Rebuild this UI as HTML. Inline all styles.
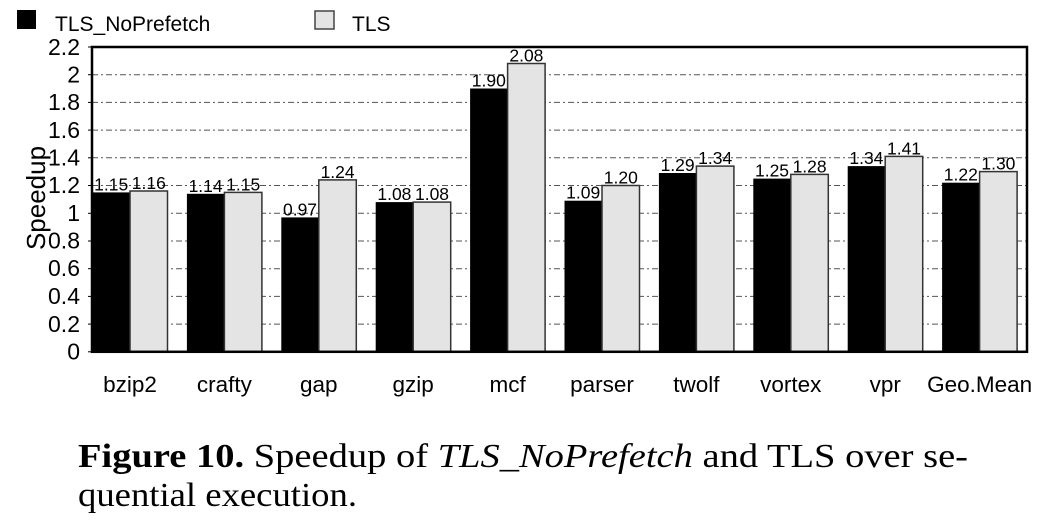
<!DOCTYPE html>
<html><head><meta charset="utf-8"><style>
html,body{margin:0;padding:0;background:#fff;}
svg{display:block;}
</style></head><body>
<svg width="1060" height="529" viewBox="0 0 1060 529" xmlns="http://www.w3.org/2000/svg" font-family="Liberation Sans, Arial, sans-serif">
<rect x="17" y="10" width="19" height="19" fill="#000"/>
<text x="55" y="31" font-size="21">TLS_NoPrefetch</text>
<rect x="315" y="11" width="19" height="18" fill="#e4e4e4" stroke="#444" stroke-width="1.5"/>
<text x="352" y="31" font-size="21">TLS</text>
<g stroke="#555" stroke-width="1" stroke-dasharray="6,3,2,3">
<line x1="92" x2="1027" y1="74.7" y2="74.7"/>
<line x1="92" x2="1027" y1="102.4" y2="102.4"/>
<line x1="92" x2="1027" y1="130.1" y2="130.1"/>
<line x1="92" x2="1027" y1="157.8" y2="157.8"/>
<line x1="92" x2="1027" y1="185.5" y2="185.5"/>
<line x1="92" x2="1027" y1="213.3" y2="213.3"/>
<line x1="92" x2="1027" y1="241" y2="241"/>
<line x1="92" x2="1027" y1="268.7" y2="268.7"/>
<line x1="92" x2="1027" y1="296.4" y2="296.4"/>
<line x1="92" x2="1027" y1="324.1" y2="324.1"/>
</g>
<g stroke="#333" stroke-width="1.5">
<rect x="92.5" y="192.4" width="37.5" height="159.4" fill="#000" stroke="none"/><rect x="130" y="191.0" width="37.5" height="160.8" fill="#e4e4e4"/>
<rect x="186.9" y="193.8" width="37.5" height="158.0" fill="#000" stroke="none"/><rect x="224.4" y="192.4" width="37.5" height="159.4" fill="#e4e4e4"/>
<rect x="281.3" y="217.4" width="37.5" height="134.4" fill="#000" stroke="none"/><rect x="318.8" y="179.9" width="37.5" height="171.9" fill="#e4e4e4"/>
<rect x="375.7" y="202.1" width="37.5" height="149.7" fill="#000" stroke="none"/><rect x="413.2" y="202.1" width="37.5" height="149.7" fill="#e4e4e4"/>
<rect x="470.1" y="88.5" width="37.5" height="263.3" fill="#000" stroke="none"/><rect x="507.6" y="63.5" width="37.5" height="288.3" fill="#e4e4e4"/>
<rect x="564.5" y="200.7" width="37.5" height="151.1" fill="#000" stroke="none"/><rect x="602" y="185.5" width="37.5" height="166.3" fill="#e4e4e4"/>
<rect x="658.9" y="173.0" width="37.5" height="178.8" fill="#000" stroke="none"/><rect x="696.4" y="166.1" width="37.5" height="185.7" fill="#e4e4e4"/>
<rect x="753.3" y="178.6" width="37.5" height="173.2" fill="#000" stroke="none"/><rect x="790.8" y="174.4" width="37.5" height="177.4" fill="#e4e4e4"/>
<rect x="847.7" y="166.1" width="37.5" height="185.7" fill="#000" stroke="none"/><rect x="885.2" y="156.4" width="37.5" height="195.4" fill="#e4e4e4"/>
<rect x="942.1" y="182.7" width="37.5" height="169.1" fill="#000" stroke="none"/><rect x="979.6" y="171.6" width="37.5" height="180.2" fill="#e4e4e4"/>
</g>
<g font-size="17.5" text-anchor="middle">
<text x="111.2" y="190.4">1.15</text><text x="148.8" y="189">1.16</text>
<text x="205.6" y="191.8">1.14</text><text x="243.2" y="190.4">1.15</text>
<text x="300" y="215.4">0.97</text><text x="337.6" y="177.9">1.24</text>
<text x="394.4" y="200.1">1.08</text><text x="432" y="200.1">1.08</text>
<text x="488.8" y="86.5">1.90</text><text x="526.4" y="61.5">2.08</text>
<text x="583.2" y="198.7">1.09</text><text x="620.8" y="183.5">1.20</text>
<text x="677.6" y="171">1.29</text><text x="715.2" y="164.1">1.34</text>
<text x="772" y="176.6">1.25</text><text x="809.6" y="172.4">1.28</text>
<text x="866.4" y="164.1">1.34</text><text x="904" y="154.4">1.41</text>
<text x="960.8" y="180.7">1.22</text><text x="998.4" y="169.6">1.30</text>
</g>
<g font-size="22.5" text-anchor="middle">
<text x="130" y="392">bzip2</text><text x="224.4" y="392">crafty</text><text x="318.8" y="392">gap</text><text x="413.2" y="392">gzip</text><text x="507.6" y="392">mcf</text><text x="602" y="392">parser</text><text x="696.4" y="392">twolf</text><text x="790.8" y="392">vortex</text><text x="885.2" y="392">vpr</text><text x="979.6" y="392">Geo.Mean</text>
</g>
<rect x="92" y="47" width="935" height="304.8" fill="none" stroke="#000" stroke-width="2.5"/>
<g stroke="#000" stroke-width="1">
<line x1="88" x2="92" y1="47" y2="47"/><line x1="88" x2="92" y1="74.7" y2="74.7"/><line x1="88" x2="92" y1="102.4" y2="102.4"/><line x1="88" x2="92" y1="130.1" y2="130.1"/><line x1="88" x2="92" y1="157.8" y2="157.8"/><line x1="88" x2="92" y1="185.5" y2="185.5"/><line x1="88" x2="92" y1="213.3" y2="213.3"/><line x1="88" x2="92" y1="241" y2="241"/><line x1="88" x2="92" y1="268.7" y2="268.7"/><line x1="88" x2="92" y1="296.4" y2="296.4"/><line x1="88" x2="92" y1="324.1" y2="324.1"/><line x1="88" x2="92" y1="351.8" y2="351.8"/>
</g>
<g font-size="23" text-anchor="end">
<text x="80" y="55">2.2</text><text x="80" y="82.5">2</text><text x="80" y="110">1.8</text><text x="80" y="138">1.6</text><text x="80" y="165.5">1.4</text><text x="80" y="193">1.2</text><text x="80" y="221">1</text><text x="80" y="248.5">0.8</text><text x="80" y="276">0.6</text><text x="80" y="304">0.4</text><text x="80" y="332">0.2</text><text x="80" y="359.5">0</text>
</g>
<text transform="translate(45,198) rotate(-90)" font-size="26" text-anchor="middle">Speedup</text>
<g font-family="Liberation Serif, Times New Roman, serif" font-size="34">
<text x="78" y="467" textLength="890" lengthAdjust="spacingAndGlyphs"><tspan font-weight="bold">Figure 10.</tspan> Speedup of <tspan font-style="italic">TLS_NoPrefetch</tspan> and TLS over se-</text>
<text x="78" y="506" textLength="279" lengthAdjust="spacingAndGlyphs">quential execution.</text>
</g>
</svg>
</body></html>
